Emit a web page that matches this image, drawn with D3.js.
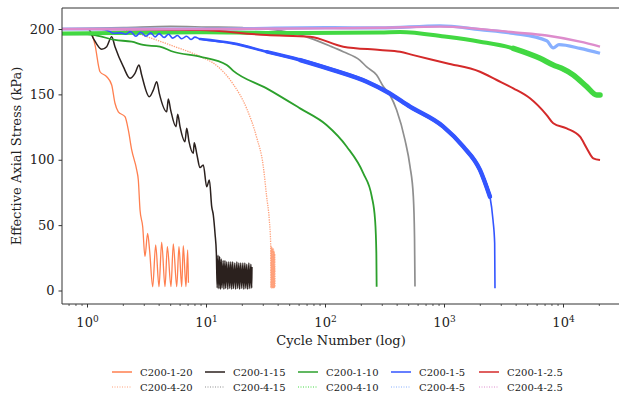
<!DOCTYPE html>
<html>
<head>
<meta charset="utf-8">
<script src="https://cdn.jsdelivr.net/npm/d3@7"></script>
<style>
  html, body { margin: 0; padding: 0; background: #fff; }
  svg { display: block; }
  text { font-family: "DejaVu Serif", serif; fill: #222; }
</style>
</head>
<body>
<svg id="chart" width="619" height="396"></svg>
<script>
// ---------------- data (cycle number, effective axial stress kPa) ----------------
const seriesNames = ["C200-1-20","C200-4-20","C200-1-15","C200-4-15","C200-1-10","C200-4-10","C200-1-5","C200-4-5","C200-1-2.5","C200-4-2.5"];

const c1_20 = [[0.5,200],[1.0,200],[1.085,196.7],[1.156,187.8],[1.274,167.3],[1.45,163.5],[1.597,157.2],[1.70,143.4],[1.815,136.7],[2.066,132.9],[2.203,122.8],[2.352,107.5],[2.59,92.2],[2.673,84.5],[2.763,61.6],[2.91,48.8],[3.04,25.9],[3.2,43.7],[3.33,30],[3.53,2.9],[3.74,34.8],[3.99,2.9],[4.2,36.9],[4.48,2.9],[4.69,33.5],[5.03,2.9],[5.26,35.6],[5.62,2.9],[5.87,33.5],[6.19,2.9],[6.38,34.3],[6.72,2.9],[6.95,31],[7.05,6]];

const c4_20 = [[0.5,200],[1.8,200],[2.42,197.5],[3.55,192.5],[5.23,187],[8.82,179],[12.18,172],[16.7,158],[21.8,139],[26.4,117],[30.0,95],[32.0,72],[33.7,54],[34.6,36],[34.8,2],[35.0,34],[35.2,2],[35.4,33],[35.6,2],[35.8,32],[36.0,2],[36.2,32],[36.4,2],[36.6,31],[36.8,2],[37.0,30],[37.2,2],[37.4,28],[37.6,3]];

const c1_15 = [[0.5,200],[1.016,200],[1.119,192.9],[1.316,184.5],[1.45,186.5],[1.597,194.1],[1.702,186.5],[2.0,171.2],[2.275,162.3],[2.506,166.1],[2.709,172.5],[2.852,164.8],[3.305,148.2],[3.573,153.3],[3.818,159.7],[4.012,150.8],[4.63,136.7],[4.776,146.5],[5.0,138],[5.54,125.3],[5.73,134.8],[5.99,125.3],[6.59,113.8],[6.82,124.1],[7.13,113.8],[7.74,104.9],[7.89,113],[8.32,103.6],[8.82,94],[9.4,96],[10.04,79.4],[10.57,84.5],[11.06,64.1],[11.41,57.7],[11.79,43.7],[12.1,28.5],
  [12.3,2],[12.5,27],[12.7,1.5],[12.9,26],[13.1,1],[13.3,24],[13.5,2],[13.8,23],[14.0,1],[14.3,23],[14.5,1.5],[14.8,22],[15.1,1],[15.4,22],[15.7,1.5],[16.0,22],[16.3,1],[16.6,22],[16.9,1.5],[17.3,21],[17.6,1],[18.0,22],[18.3,1.5],[18.7,21],[19.0,1],[19.4,21],[19.8,1.5],[20.2,21],[20.6,1],[21.0,21],[21.4,1.5],[21.8,20],[22.2,1],[22.7,21],[23.1,1.5],[23.6,20],[24.0,2],[24.1,18]];

const c4_15 = [[0.5,200],[2,201],[5,202],[10,201.5],[20,201],[31.6,200],[50,197.5],[74,193],[109,187],[141,182.6],[195,176],[222,171],[269,164.8],[306,156],[348,149.5],[396,138],[466,115],[513,95],[547,72],[560,40],[565,3]];

const c1_10 = [[0.5,196],[1.0,196],[1.2,195],[1.7,191.6],[2.352,190.3],[2.94,187.8],[4.06,186.5],[5.26,182.6],[8.82,178.8],[14.8,172.5],[16.8,168],[32,154.6],[61.1,139.3],[102,126.6],[151,110],[208,89.6],[245,71.7],[261,53.9],[267.5,28.5],[269,2.9]];

const c4_10 = [[0.5,196.5],[10,197.5],[32,197],[287,197.3],[423,197.8],[1043,194],[1987,190.3],[3787,185.2],[6350,177.6],[8204,172.5],[9660,169.9],[12090,164.8],[15670,155.9],[19010,149.5],[20270,149.5]];

const c1_5 = [[0.5,200],[1.27,200],[1.546,198],[1.64,196.7],[1.9,197],[2.1,196],[2.3,198],[2.55,194.5],[2.8,197.5],[3.1,194.5],[3.4,197],[3.7,194],[4.0,196.5],[4.4,193.5],[4.8,196],[5.2,193],[5.7,195],[6.2,192.5],[6.8,194.5],[7.4,192],[8.0,193.8],[8.82,192.3],[16.7,189],[32,182.6],[61.1,176.3],[116,168.6],[222,159.7],[327,152],[513,140.6],[977,125.3],[1439,110],[1987,92.2],[2411,71.7],[2556,53.9],[2640,36.1],[2656,1.7]];

const c4_5 = [[0.5,200],[10,200],[100,201],[287,200.8],[916,202.5],[1987,199.5],[3787,196.7],[7225,191],[8204,185.5],[9160,188],[13770,185.2],[20270,181.4]];

const c1_2_5 = [[0.5,200],[1,200],[5,199.5],[8.82,199.2],[32,195.4],[74.1,194.1],[141,186.5],[287,184],[423,182.6],[547,180],[1043,173.8],[1987,167.3],[2747,161],[3787,154.6],[5228,147],[7225,134.2],[8204,127.9],[10630,124],[13770,117.6],[15670,108.8],[17800,101.1],[20270,99.8]];

const c4_2_5 = [[0.5,200],[10,200],[100,200.5],[287,201],[916,201.8],[1746,200.5],[3787,197.5],[7225,195],[13770,190.3],[20270,186.5]];

const seriesData = [c1_20, c4_20, c1_15, c4_15, c1_10, c4_10, c1_5, c4_5, c1_2_5, c4_2_5];

const yTicks = [0, 50, 100, 150, 200];
const xTickExps = [0, 1, 2, 3, 4];

// ---------------- style ----------------
const colors = ["#ff7f4f","#ffa07a","#2b211e","#8f8f8f","#2ca02c","#42d842","#3355ff","#88b0ff","#d42a2a","#dd8ccc"];
const dotted = [false,true,false,true,false,true,false,true,false,true];
const widths = [1.3,1.3,1.5,1.7,1.8,4.0,1.6,3.2,2.0,2.4];
// thicker noisy band drawn over part of some series: [from N, width, min stress]
const bands = [null,null,null,null,null,[3000,5.5,60],null,null,null,null];
const bands2 = [null,null,null,null,null,null,[[8.82,2.6,60],[25,3.6,60],[60,4.4,60]],null,null,null];

// ---------------- layout ----------------
const svg = d3.select("#chart");
const plot = {left: 62, top: 8, right: 625, bottom: 304};

const x = d3.scaleLog()
  .domain([Math.pow(10, (62 - 87.5) / 119), Math.pow(10, (625 - 87.5) / 119)])
  .range([plot.left, plot.right]);
const y = d3.scaleLinear()
  .domain([(290.5 - 304) / 1.3075, (290.5 - 8) / 1.3075])
  .range([plot.bottom, plot.top]);

svg.append("defs").append("clipPath").attr("id", "clip")
  .append("rect").attr("x", plot.left).attr("y", plot.top)
  .attr("width", plot.right - plot.left).attr("height", plot.bottom - plot.top);

const line = d3.line().x(d => x(d[0])).y(d => y(d[1])).curve(d3.curveMonotoneX);
const g = svg.append("g").attr("clip-path", "url(#clip)");

function drawBand(data, i, b) {
  g.append("path")
    .attr("d", line(data.filter(d => d[0] >= b[0] && d[1] > b[2])))
    .attr("fill", "none")
    .attr("stroke", colors[i])
    .attr("stroke-width", b[1])
    .attr("stroke-linejoin", "round")
    .attr("stroke-linecap", "round");
}

seriesData.forEach((data, i) => {
  g.append("path")
    .attr("d", line(data))
    .attr("fill", "none")
    .attr("stroke", colors[i])
    .attr("stroke-width", widths[i])
    .attr("stroke-linejoin", "round")
    .attr("stroke-dasharray", (dotted[i] && i === 1) ? "1.3,1.1" : null);
  if (bands[i]) drawBand(data, i, bands[i]);
  if (bands2[i]) bands2[i].forEach(b => drawBand(data, i, b));
});

// ---------------- axes ----------------
const axisColor = "#333";
svg.append("line").attr("x1", plot.left).attr("x2", plot.left).attr("y1", plot.top).attr("y2", plot.bottom)
  .attr("stroke", axisColor).attr("stroke-width", 1);
svg.append("line").attr("x1", plot.left).attr("x2", 619).attr("y1", plot.bottom).attr("y2", plot.bottom)
  .attr("stroke", axisColor).attr("stroke-width", 1);
svg.append("line").attr("x1", plot.left).attr("x2", 619).attr("y1", plot.top).attr("y2", plot.top)
  .attr("stroke", axisColor).attr("stroke-width", 1);

const yAxis = d3.axisLeft(y).tickValues(yTicks).tickSize(3.5).tickPadding(4);
const ya = svg.append("g").attr("transform", `translate(${plot.left},0)`).call(yAxis);
ya.select(".domain").remove();
ya.selectAll("line").attr("stroke", axisColor);
ya.selectAll("text").style("font-size", "13px").attr("fill", "#222");

const majors = xTickExps.map(e => Math.pow(10, e));
const minors = [];
for (let e = -1; e <= 4; e++) for (let m = 2; m <= 9; m++) {
  const v = m * Math.pow(10, e);
  if (v >= x.domain()[0] && v <= x.domain()[1]) minors.push(v);
}
const xa = svg.append("g").attr("transform", `translate(0,${plot.bottom})`);
xa.selectAll(".minor").data(minors).enter().append("line")
  .attr("x1", d => x(d)).attr("x2", d => x(d)).attr("y1", 0).attr("y2", 2)
  .attr("stroke", axisColor).attr("stroke-width", 0.8);
xa.selectAll(".major").data(majors).enter().append("line")
  .attr("x1", d => x(d)).attr("x2", d => x(d)).attr("y1", 0).attr("y2", 3.5)
  .attr("stroke", axisColor).attr("stroke-width", 1);
const xl = xa.selectAll(".lbl").data(xTickExps).enter().append("text")
  .attr("x", e => x(Math.pow(10, e)))
  .attr("y", 23)
  .attr("text-anchor", "middle")
  .style("font-size", "13px");
xl.append("tspan").text("10");
xl.append("tspan").attr("dy", -5).style("font-size", "9px").text(e => e);

svg.append("text").attr("x", 341).attr("y", 345).attr("text-anchor", "middle")
  .style("font-size", "13px").text("Cycle Number (log)");
svg.append("text").attr("transform", "translate(21,156) rotate(-90)").attr("text-anchor", "middle")
  .style("font-size", "13px").text("Effective Axial Stress (kPa)");

// ---------------- legend ----------------
const legX = [112, 205, 298, 391, 479];
const legY = [372, 387];
seriesNames.forEach((name, i) => {
  const col = Math.floor(i / 2), row = i % 2;
  const lx = legX[col], ly = legY[row];
  svg.append("line").attr("x1", lx).attr("x2", lx + 20).attr("y1", ly).attr("y2", ly)
    .attr("stroke", colors[i]).attr("stroke-width", dotted[i] ? 1 : 1.5)
    .attr("stroke-dasharray", dotted[i] ? "1,1.5" : null);
  svg.append("text").attr("x", lx + 28).attr("y", ly + 3.5)
    .style("font-size", "10px").text(name);
});
</script>
</body>
</html>
